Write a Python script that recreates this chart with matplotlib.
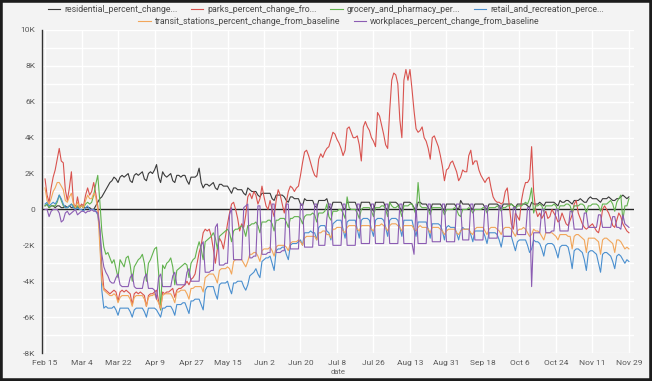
import matplotlib
matplotlib.use("Agg")
import matplotlib.pyplot as plt
from matplotlib.patches import Rectangle
from matplotlib.ticker import MultipleLocator, FuncFormatter
import pandas as pd

# daily values in hundreds, weeks start on Saturday (Feb 15 2020)
residential = [
    2, 3, 1, 2, 2, 1, 2,
    2, 1, 1, 2, 1, 2, 1,
    1, 2, 1, 1, 2, 1, 1,
    1, 1, 0, 0, 2, 4, 6,
    7, 9, 11, 13, 15, 16, 18,
    17, 15, 18, 19, 18, 19, 20,
    16, 15, 19, 20, 19, 20, 21,
    17, 16, 20, 21, 20, 22, 25,
    18, 15, 21, 19, 18, 19, 20,
    16, 15, 19, 19, 18, 19, 19,
    16, 14, 18, 18, 18, 19, 23,
    15, 12, 14, 14, 13, 14, 15,
    12, 11, 14, 14, 13, 13, 13,
    11, 9, 12, 12, 11, 11, 11,
    9, 8, 12, 11, 10, 10, 10,
    8, 7, 9, 9, 9, 9, 9,
    6, 5, 8, 8, 8, 8, 7,
    5, 4, 7, 7, 6, 6, 6,
    3, 2, 6, 5, 5, 5, 5,
    2, 1, 5, 5, 5, 5, 6,
    2, 0, 4, 4, 4, 4, 4,
    1, 0, 4, 4, 4, 4, 4,
    1, -1, 4, 4, 4, 4, 4,
    1, -1, 4, 4, 4, 4, 4,
    1, -1, 4, 4, 4, 4, 3,
    1, -1, 4, 4, 4, 4, 3,
    1, -1, 4, 4, 3, 3, 3,
    1, -1, 3, 3, 3, 3, 3,
    1, -1, 3, 3, 3, 3, 3,
    1, 0, 5, 3, 3, 3, 3,
    1, 0, 3, 3, 3, 3, 3,
    1, 0, 3, 3, 3, 3, 3,
    2, 0, 3, 3, 3, 3, 3,
    2, 1, 3, 3, 3, 3, 3,
    2, 1, 4, 3, 3, 3, 4,
    3, 2, 4, 4, 4, 4, 4,
    3, 2, 5, 4, 4, 5, 5,
    4, 3, 5, 5, 5, 6, 5,
    4, 4, 6, 7, 6, 6, 6,
    5, 4, 6, 6, 6, 7, 6,
    5, 5, 6, 6, 7, 8, 7,
    6, 7]

parks = [
    17, 8, 4, 12, 18, 22, 28,
    34, 27, 26, 11, 5, 12, 21,
    4, 0, 7, 1, 3, 2, 8,
    12, 8, 10, 15, 9, 2, -12,
    -32, -44, -45, -46, -47, -46, -45,
    -46, -51, -46, -45, -46, -45, -46,
    -47, -53, -47, -46, -47, -46, -47,
    -48, -54, -48, -47, -47, -46, -45,
    -51, -56, -46, -47, -46, -46, -45,
    -44, -49, -45, -44, -44, -43, -42,
    -40, -42, -39, -38, -36, -30, -24,
    -20, -13, -11, -12, -11, -15, -22,
    -30, -22, -16, -18, -22, -15, -8,
    -2, 3, 4, 0, -5, -12, -8,
    -10, -3, 7, 9, 6, 10, 8,
    3, 6, 13, 7, 2, 0, 5,
    0, -4, 5, 11, 8, 3, -2,
    4, 10, 13, 12, 10, 12, 13,
    19, 26, 32, 33, 30, 26, 22,
    19, 18, 28, 31, 29, 32, 34,
    35, 39, 43, 42, 39, 37, 34,
    30, 33, 45, 46, 43, 40, 40,
    41, 36, 27, 46, 49, 46, 44,
    40, 38, 35, 54, 52, 47, 42,
    36, 34, 55, 72, 76, 75, 70,
    50, 40, 72, 78, 72, 78, 67,
    55, 45, 43, 44, 46, 40, 38,
    34, 28, 40, 41, 38, 35, 30,
    24, 16, 22, 23, 26, 27, 24,
    21, 16, 18, 22, 21, 21, 30,
    33, 25, 27, 27, 22, 19, 17,
    15, 17, 18, 12, 7, 5, 4,
    4, 3, 4, 10, 12, 2, -8,
    -11, -2, -4, -6, 5, 11, 15,
    15, 17, 35, 10, 0, -4, -2,
    -5, -3, -1, -5, -4, 0, -2,
    -4, -7, -6, -2, -5, -8, -9,
    -6, -3, 3, 5, -2, -5, -8,
    -10, -11, -10, -9, -8, -10, -12,
    -13, -8, 0, 2, 0, -2, -5,
    -9, -10, -6, -2, -4, -8, -10,
    -12, -13]

grocery = [
    2, 3, 1, 2, 2, 2, 4,
    8, 5, 2, 1, 1, 2, 3,
    2, 0, 2, 1, 2, 1, 3,
    4, 3, 4, 8, 14, 19, 5,
    -12, -21, -25, -24, -27, -30, -28,
    -33, -38, -28, -30, -32, -27, -26,
    -31, -40, -32, -30, -28, -27, -25,
    -30, -40, -30, -28, -25, -22, -21,
    -35, -56, -31, -33, -30, -29, -27,
    -32, -42, -34, -33, -32, -31, -30,
    -31, -38, -30, -28, -27, -22, -18,
    -22, -28, -18, -17, -16, -15, -13,
    -16, -22, -15, -14, -13, -12, -11,
    -13, -18, -12, -11, -11, -10, -9,
    -11, -15, -9, -9, -8, -8, -7,
    -9, -13, -7, -7, -7, -6, -6,
    -8, -12, -6, -6, -5, -5, -5,
    -7, -10, -5, -5, -4, -4, -4,
    -5, -8, -4, -3, -3, -3, -2,
    -3, -7, -2, -2, -2, -1, 3,
    -4, -6, -1, -1, -1, 0, 0,
    -2, -5, 7, 1, 0, 0, 0,
    -2, -5, 0, 1, 1, 1, 1,
    -1, -4, 1, 1, 1, 2, 2,
    0, -4, 4, 2, 1, 1, 2,
    0, -4, 2, 2, 2, 3, 3,
    0, -3, 15, 2, 1, 1, 1,
    0, -3, 1, 1, 1, 1, 1,
    0, -3, 0, 0, 0, 0, 1,
    0, -3, -4, 0, 0, 0, 1,
    0, -2, 0, 0, 0, 0, 1,
    1, -2, 1, 1, 1, 1, 2,
    1, -1, 1, 1, 2, 2, 3,
    2, 0, 2, 2, 2, 3, 4,
    3, 6, 12, -2, 2, 2, 3,
    2, -1, 2, 2, 2, 2, 3,
    2, -1, 2, 2, 2, 3, 3,
    2, -2, 2, 2, 2, 3, 3,
    2, -2, 2, 2, 3, 3, 3,
    2, -1, 3, 3, 3, 4, 5,
    3, -1, 4, 6, 8, -6, 2,
    2, 6]

retail = [
    3, 4, 2, 3, 4, 3, 5,
    8, 6, 3, 1, 1, 2, 3,
    1, 0, 1, 0, 0, -1, 1,
    2, 0, 0, 0, -1, -3, -12,
    -45, -55, -54, -55, -55, -55, -54,
    -56, -59, -55, -55, -55, -55, -55,
    -57, -60, -56, -55, -55, -55, -55,
    -57, -60, -55, -55, -55, -55, -56,
    -58, -60, -55, -55, -54, -54, -54,
    -56, -59, -53, -53, -53, -52, -52,
    -55, -58, -51, -51, -50, -50, -50,
    -53, -56, -45, -43, -43, -43, -43,
    -47, -50, -42, -41, -41, -41, -40,
    -44, -47, -41, -41, -40, -40, -40,
    -43, -45, -42, -37, -36, -35, -33,
    -36, -38, -29, -28, -27, -27, -26,
    -30, -34, -23, -22, -22, -21, -21,
    -25, -28, -20, -19, -19, -19, -18,
    -17, -20, -13, -13, -13, -12, -13,
    -13, -17, -10, -9, -9, -9, -12,
    -13, -17, -8, -7, -6, -6, -6,
    -11, -16, -7, -6, -6, -6, -6,
    -11, -16, -6, -5, -5, -5, -6,
    -11, -15, -6, -5, -5, -5, -6,
    -10, -15, -6, -5, -5, -5, -6,
    -10, -15, -6, -6, -6, -6, -6,
    -11, -15, -7, -7, -7, -7, -7,
    -11, -16, -8, -8, -8, -8, -9,
    -12, -17, -10, -9, -10, -10, -10,
    -13, -17, -12, -10, -11, -11, -11,
    -14, -18, -12, -12, -12, -12, -12,
    -15, -19, -13, -13, -13, -13, -14,
    -17, -21, -15, -15, -15, -15, -15,
    -19, -23, -18, -17, -17, -17, -17,
    -20, -24, -22, -17, -18, -18, -19,
    -22, -26, -20, -19, -19, -19, -20,
    -23, -27, -21, -20, -20, -20, -21,
    -26, -33, -23, -22, -22, -23, -24,
    -28, -34, -24, -23, -23, -24, -25,
    -30, -35, -25, -24, -24, -25, -26,
    -29, -33, -26, -25, -26, -28, -30,
    -28, -29]

transit = [
    12, 5, 3, 6, 10, 12, 15,
    15, 13, 11, 5, 4, 7, 9,
    3, 1, 4, 1, 2, 1, 5,
    8, 6, 6, 9, 7, 0, -20,
    -40, -45, -46, -47, -48, -48, -47,
    -48, -52, -49, -48, -48, -48, -48,
    -50, -54, -49, -48, -48, -48, -48,
    -50, -54, -49, -48, -48, -47, -50,
    -52, -55, -48, -47, -47, -47, -47,
    -49, -52, -46, -46, -45, -45, -45,
    -47, -50, -44, -44, -43, -43, -43,
    -43, -46, -38, -37, -36, -36, -36,
    -38, -41, -34, -33, -33, -33, -32,
    -33, -36, -29, -28, -28, -28, -28,
    -30, -32, -29, -25, -25, -24, -24,
    -26, -29, -23, -22, -22, -22, -21,
    -23, -26, -21, -20, -20, -20, -20,
    -21, -23, -19, -18, -18, -18, -17,
    -18, -20, -16, -15, -15, -15, -15,
    -15, -17, -13, -13, -12, -12, -14,
    -14, -16, -11, -11, -10, -10, -10,
    -12, -13, -10, -9, -9, -9, -9,
    -11, -12, -9, -9, -9, -9, -9,
    -11, -12, -9, -9, -9, -8, -9,
    -10, -12, -9, -8, -8, -8, -9,
    -10, -12, -9, -9, -9, -9, -9,
    -11, -12, -10, -9, -10, -10, -10,
    -11, -13, -10, -10, -10, -10, -11,
    -12, -14, -12, -11, -11, -11, -11,
    -13, -14, -12, -11, -11, -11, -11,
    -13, -14, -11, -10, -10, -10, -10,
    -12, -14, -11, -10, -10, -10, -11,
    -12, -14, -11, -10, -10, -10, -11,
    -13, -15, -12, -11, -11, -10, -11,
    -13, -15, -14, -11, -12, -12, -13,
    -15, -17, -13, -13, -13, -13, -14,
    -15, -17, -14, -14, -14, -14, -15,
    -15, -22, -15, -14, -14, -15, -16,
    -17, -24, -16, -16, -16, -16, -17,
    -18, -25, -17, -16, -16, -17, -18,
    -19, -24, -17, -17, -18, -20, -22,
    -21, -22]

workplaces = [
    0, 0, -4, -1, 0, 0, 0,
    -2, -7, -6, -2, -1, -3, -2,
    -1, 0, -3, -2, -1, -1, -2,
    -1, -1, 0, -1, -1, -2, -10,
    -25, -32, -35, -37, -40, -41, -41,
    -38, -36, -42, -43, -43, -43, -43,
    -38, -36, -43, -44, -44, -44, -44,
    -38, -36, -44, -44, -44, -45, -50,
    -38, -36, -43, -43, -43, -43, -43,
    -37, -35, -42, -42, -42, -42, -42,
    -35, -33, -40, -40, -40, -40, -40,
    -20, -18, -35, -35, -35, -34, -34,
    -10, -8, -31, -31, -31, -30, -30,
    -3, 1, -28, -28, -28, -28, -28,
    1, 2, 3, -27, -27, -26, -26,
    2, 2, -25, -25, -25, -24, -24,
    3, 3, -24, -24, -24, -23, -23,
    3, 3, -22, -22, -22, -22, -22,
    3, 3, -21, -21, -21, -21, -21,
    3, 3, -20, -20, -20, -20, -5,
    3, 3, -20, -20, -20, -20, -20,
    3, 3, -20, -20, -20, -20, -20,
    3, 3, -19, -19, -19, -19, -19,
    3, 3, -19, -19, -19, -19, -19,
    3, 3, -19, -19, -19, -19, -19,
    3, 3, -19, -19, -19, -19, -19,
    -25, 3, -19, -19, -19, -19, -19,
    3, 3, -18, -18, -18, -18, -18,
    3, 3, -18, -18, -18, -18, -18,
    3, 3, 2, -17, -17, -17, -17,
    3, 3, -17, -17, -17, -17, -17,
    2, 2, -16, -16, -16, -16, -16,
    2, 2, -15, -15, -15, -15, -15,
    1, 1, -14, -14, -14, -14, -14,
    1, 1, -43, -13, -13, -13, -13,
    0, 0, -13, -13, -13, -12, -12,
    0, 0, -12, -12, -12, -12, -12,
    -1, -1, -11, -11, -11, -11, -11,
    -2, -2, -10, -10, -10, -10, -10,
    -3, -3, -10, -10, -10, -10, -10,
    -4, -4, -10, -10, -11, -3, -8,
    -9, -10]

series = [
    ("residential_percent_change...", residential, "#3a3a3a"),
    ("parks_percent_change_fro...", parks, "#d9534f"),
    ("grocery_and_pharmacy_per...", grocery, "#62b34f"),
    ("retail_and_recreation_perce...", retail, "#4a8fcf"),
    ("transit_stations_percent_change_from_baseline", transit, "#f2a65a"),
    ("workplaces_percent_change_from_baseline", workplaces, "#8b5cb3"),
]
for name, vals, _ in series:
    assert len(vals) == 289, (name, len(vals))

dates = pd.date_range("2020-02-15", periods=289, freq="D")
ticks = pd.date_range("2020-02-15", "2020-11-29", freq="18D")

plt.rcParams["font.family"] = ["Roboto", "DejaVu Sans"]
bg = "#f3f3f3"

fig = plt.figure(figsize=(6.52, 3.81), dpi=100, facecolor=bg)
ax = fig.add_axes([42 / 652, 1 - 353 / 381, 592 / 652, 323 / 381])
ax.set_facecolor(bg)

handles = []
for name, vals, color in series:
    (ln,) = ax.plot(dates, [v * 100 for v in vals], color=color, lw=0.8,
                    label=name, zorder=3, solid_joinstyle="round")
    handles.append(ln)

ax.axhline(0, color="#222222", lw=1.0, zorder=2)

ax.set_ylim(-8000, 10000)
ax.set_xlim(dates[0] - pd.Timedelta(days=1.5), dates[-1] + pd.Timedelta(days=2.5))
ax.yaxis.set_major_locator(MultipleLocator(2000))
ax.yaxis.set_minor_locator(MultipleLocator(1000))
ax.yaxis.set_major_formatter(FuncFormatter(lambda v, p: "0" if v == 0 else f"{int(v / 1000)}K"))
ax.set_xticks(ticks)
ax.set_xticklabels([f"{d:%b} {d.day}" for d in ticks])

ax.grid(True, which="both", color="white", lw=1.0, zorder=0)
ax.set_axisbelow(True)
ax.tick_params(axis="both", which="both", length=0, labelsize=6, labelcolor="#5a5a5a")
ax.tick_params(axis="y", pad=5)
ax.tick_params(axis="x", pad=5)
for s in ["top", "right", "bottom"]:
    ax.spines[s].set_visible(False)
ax.spines["left"].set_color("#333333")
ax.spines["left"].set_linewidth(1.0)

ax.set_xlabel("date", fontsize=5.5, color="#666666", labelpad=2)

leg_kw = dict(frameon=False, fontsize=6.3, handlelength=1.4, handletextpad=0.5,
              columnspacing=1.5, labelcolor="#4a4a4a", borderaxespad=0)
fig.legend(handles[:4], [s[0] for s in series[:4]], loc="center",
           bbox_to_anchor=(0.5, 1 - 10 / 381), ncol=4, **leg_kw)
fig.legend(handles[4:], [s[0] for s in series[4:]], loc="center",
           bbox_to_anchor=(0.52, 1 - 22 / 381), ncol=2, **leg_kw)

fig.patches.append(Rectangle((0, 0), 1, 1, transform=fig.transFigure, fill=False,
                             edgecolor="#1c1c1c", lw=4))

fig.savefig("out.png", dpi=100, facecolor=bg)
